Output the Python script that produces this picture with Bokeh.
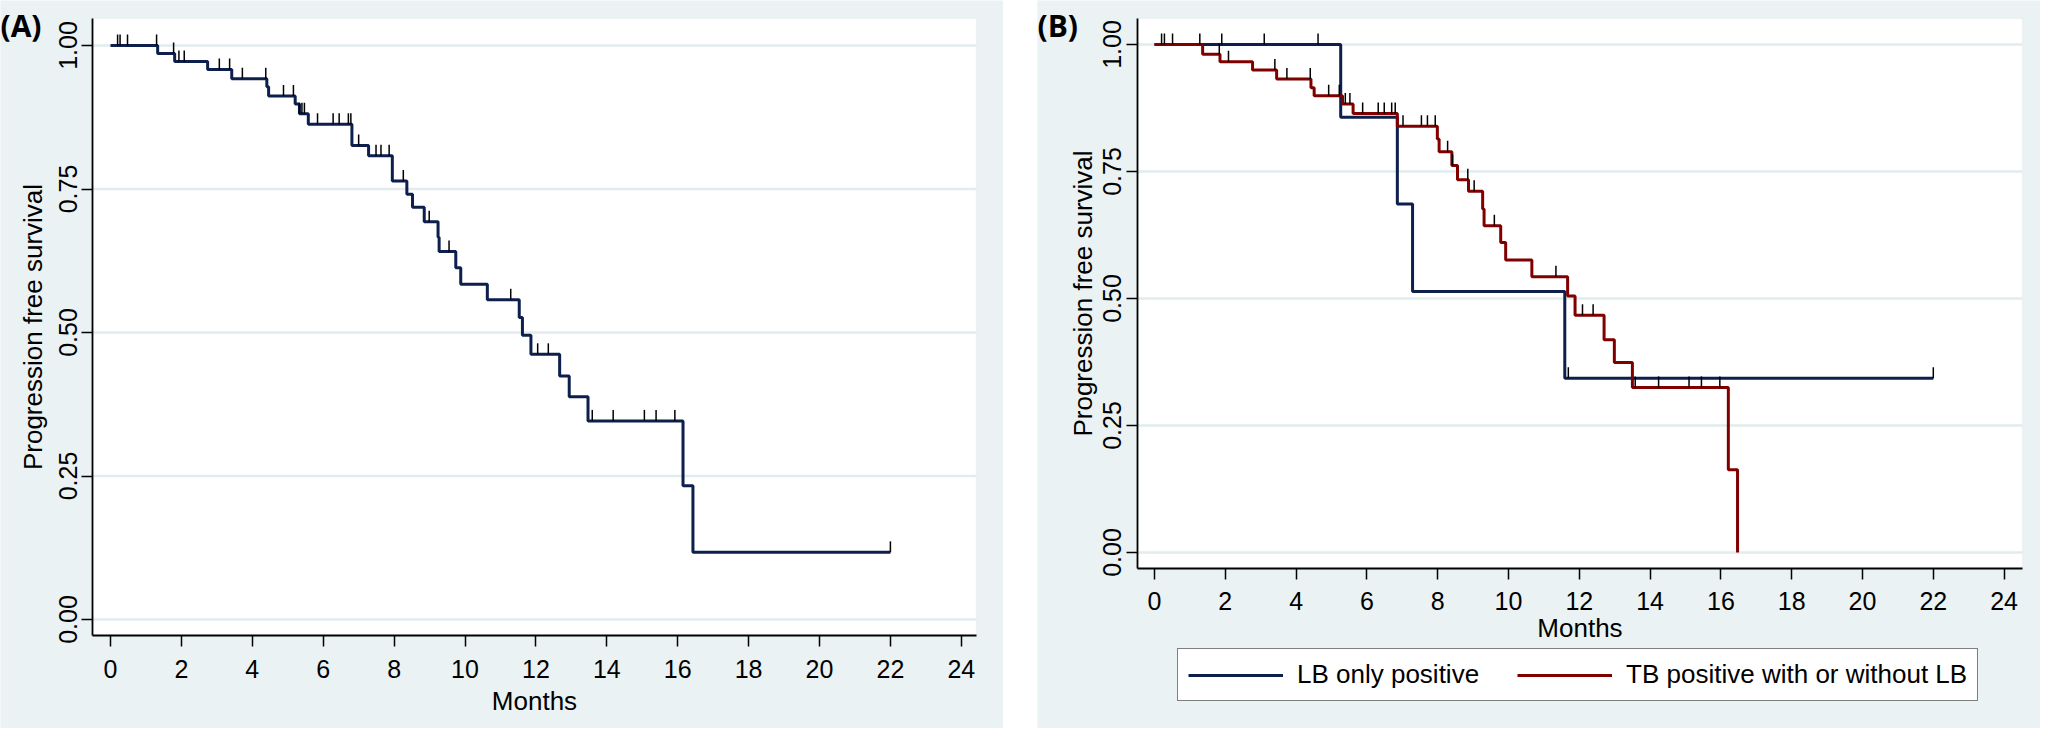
import numpy as np
from bokeh.plotting import figure
from bokeh.models import (Range1d, FixedTicker, Label, Legend, LegendItem, NumeralTickFormatter,
                          LinearAxis, BoxAnnotation)
from bokeh.layouts import row
from bokeh.embed import file_html
from bokeh.resources import INLINE

# ---------------- data ----------------
# Panel A: all patients
a_times = [0, 1.33, 1.81, 2.74, 3.42, 4.41, 4.46, 5.21, 5.33, 5.58, 6.81, 7.28, 7.95, 8.36,
           8.52, 8.85, 9.24, 9.27, 9.74, 9.88, 10.63, 11.53, 11.62, 11.86, 12.67, 12.94,
           13.47, 16.15, 16.43]
a_surv = [1.0, 0.986, 0.972, 0.958, 0.942, 0.928, 0.912, 0.898, 0.881, 0.863, 0.826, 0.808,
          0.764, 0.741, 0.718, 0.693, 0.666, 0.641, 0.613, 0.584, 0.557, 0.526, 0.495, 0.462,
          0.424, 0.388, 0.346, 0.233, 0.117]
a_end = 22.0
a_censor = [0.2, 0.27, 0.48, 1.3, 1.78, 1.93, 2.08, 3.07, 3.36, 3.72, 4.38, 4.88, 5.16, 5.33,
            5.40, 5.47, 5.84, 6.28, 6.45, 6.71, 6.78, 7.0, 7.49, 7.63, 7.86, 8.26, 8.99, 9.55,
            11.29, 12.05, 12.35, 13.59, 14.18, 15.06, 15.39, 15.92, 22.0]

# Panel B: LB only positive
lb_times = [0, 5.26, 6.86, 7.29, 11.59]
lb_surv = [1.0, 0.857, 0.686, 0.514, 0.343]
lb_end = 22.0
lb_censor = [1.90, 3.10, 4.62, 11.69, 22.0]

# Panel B: TB positive with or without LB
tb_times = [0, 1.36, 1.85, 2.77, 3.45, 4.42, 4.51, 5.31, 5.61, 6.86, 7.99, 8.04, 8.40, 8.56,
            8.87, 9.27, 9.31, 9.78, 9.92, 10.66, 11.67, 11.88, 12.70, 12.99, 13.50, 16.21, 16.47]
tb_surv = [1.0, 0.981, 0.966, 0.950, 0.932, 0.915, 0.899, 0.883, 0.864, 0.839, 0.814, 0.789,
           0.762, 0.734, 0.711, 0.676, 0.643, 0.610, 0.576, 0.543, 0.505, 0.467, 0.419, 0.374,
           0.325, 0.163, 0.0]
tb_censor = [0.2, 0.28, 0.51, 1.28, 1.83, 2.09, 3.40, 3.74, 4.40, 4.92, 5.22, 5.39, 5.52, 5.88,
             6.32, 6.49, 6.70, 6.80, 7.02, 7.54, 7.71, 7.93, 8.28, 8.42, 8.85, 9.03, 9.60,
             11.34, 12.09, 12.39, 13.58, 14.24, 15.10, 15.45, 15.97]

x_ticks = list(range(0, 25, 2))
y_ticks = [0, 0.25, 0.5, 0.75, 1.0]
x_label = "Months"
y_label = "Progression free survival"
legend_labels = ["LB only positive", "TB positive with or without LB"]

# ---------------- style ----------------
BG = "#eaf2f3"
GRID = "#e2ebee"
NAVY = "#0c1f4d"
MAROON = "#800000"
FONT = "Liberation Sans"
TICK_FS = "25px"
LAB_FS = "26px"


class Panel:
    """Pixel geometry of one panel: the frame fills the whole figure."""

    def __init__(self, W, H, x0px, ppm, y1px, ppu, box, tick_h):
        self.W, self.H = W, H
        self.x0px, self.ppm, self.y1px, self.ppu = x0px, ppm, y1px, ppu
        L, T, R, B = box
        self.xl, self.xr = self.dx(L), self.dx(R)
        self.yt, self.yb = self.dy(T), self.dy(B)
        self.tick_h = tick_h / ppu

    def dx(self, px):
        return (px - self.x0px) / self.ppm

    def dy(self, py):
        return 1 - (py - self.y1px) / self.ppu


def make_fig(g, y_tick_standoff, y_label_standoff, x_tick_standoff, x_label_standoff):
    p = figure(frame_width=g.W, frame_height=g.H, output_backend="svg", toolbar_location=None,
               x_range=Range1d(g.dx(0), g.dx(g.W)), y_range=Range1d(g.dy(g.H), g.dy(0)),
               x_axis_location=None, y_axis_location=None,
               min_border=0, min_border_left=0, min_border_right=0, min_border_top=0,
               min_border_bottom=0, background_fill_color=BG, border_fill_color=BG,
               outline_line_color=None)
    p.grid.visible = False
    # white plot region
    p.add_layout(BoxAnnotation(left=g.xl, right=g.xr, top=g.yt, bottom=g.yb,
                               fill_color="white", fill_alpha=1.0,
                               line_color="#d9e2e6", line_width=1.5, level="underlay"))
    # horizontal grid lines inside the plot region
    p.segment(x0=[g.xl] * len(y_ticks), y0=y_ticks, x1=[g.xr] * len(y_ticks), y1=y_ticks,
              line_color=GRID, line_width=2.5)

    xa = LinearAxis(fixed_location=g.yb, bounds=(g.xl, g.xr),
                    ticker=FixedTicker(ticks=x_ticks), axis_label=x_label)
    ya = LinearAxis(fixed_location=g.xl, bounds=(g.yb, g.yt),
                    ticker=FixedTicker(ticks=y_ticks), axis_label=y_label,
                    formatter=NumeralTickFormatter(format="0.00"))
    for ax in (xa, ya):
        ax.axis_line_color = "black"
        ax.axis_line_width = 1.8
        ax.major_tick_line_color = "black"
        ax.major_tick_line_width = 1.5
        ax.major_tick_in = 0
        ax.major_tick_out = 11
        ax.minor_tick_in = 0
        ax.minor_tick_out = 0
        ax.major_label_text_font = FONT
        ax.major_label_text_font_size = TICK_FS
        ax.major_label_text_color = "black"
        ax.axis_label_text_font = FONT
        ax.axis_label_text_font_size = LAB_FS
        ax.axis_label_text_font_style = "normal"
        ax.axis_label_text_color = "black"
    ya.major_label_orientation = "vertical"
    ya.major_label_standoff = y_tick_standoff
    ya.axis_label_standoff = y_label_standoff
    xa.major_label_standoff = x_tick_standoff
    xa.axis_label_standoff = x_label_standoff
    p.add_layout(xa, "below")
    p.add_layout(ya, "left")
    return p


def step_xy(times, surv, end=None):
    xs = list(times)
    ys = list(surv)
    if end is not None:
        xs.append(end)
        ys.append(surv[-1])
    return xs, ys


def censor_levels(times, surv, cens):
    t = np.asarray(times)
    s = np.asarray(surv)
    idx = np.searchsorted(t, np.asarray(cens), side="right") - 1
    return s[idx]


def panel_label(p, g, text):
    p.add_layout(Label(x=g.dx(0), y=g.dy(4), text=text, text_font="Open Sans",
                       text_font_style="bold", text_font_size="30px", text_baseline="top",
                       text_align="left", text_color="black"))


# ---------------- panel A ----------------
gA = Panel(1003, 728, x0px=110, ppm=35.45, y1px=45, ppu=574, box=(92, 18, 976, 635), tick_h=11)
pA = make_fig(gA, 5, 8, 13, 5)
xs, ys = step_xy(a_times, a_surv, a_end)
pA.step(xs, ys, mode="after", line_color=NAVY, line_width=3)
lv = censor_levels(a_times, a_surv, a_censor)
pA.segment(x0=a_censor, y0=lv, x1=a_censor, y1=lv + gA.tick_h, line_color="black",
           line_width=1.5)
panel_label(pA, gA, "(A)")

# ---------------- panel B ----------------
gB = Panel(1003, 728, x0px=117, ppm=35.4, y1px=44, ppu=508, box=(100, 18, 985, 568), tick_h=11)
pB = make_fig(gB, 6, 2, 12, 0)
xs, ys = step_xy(lb_times, lb_surv, lb_end)
r_lb = pB.step(xs, ys, mode="after", line_color=NAVY, line_width=3)
xs, ys = step_xy(tb_times, tb_surv)
r_tb = pB.step(xs, ys, mode="after", line_color=MAROON, line_width=3)
lv = censor_levels(lb_times, lb_surv, lb_censor)
pB.segment(x0=lb_censor, y0=lv, x1=lb_censor, y1=lv + gB.tick_h, line_color="black",
           line_width=1.5)
lv = censor_levels(tb_times, tb_surv, tb_censor)
pB.segment(x0=tb_censor, y0=lv, x1=tb_censor, y1=lv + gB.tick_h, line_color="black",
           line_width=1.5)
panel_label(pB, gB, "(B)")

legend = Legend(items=[LegendItem(label=legend_labels[0], renderers=[r_lb]),
                       LegendItem(label=legend_labels[1], renderers=[r_tb])],
                orientation="horizontal", location=(140, 27),
                label_text_font=FONT, label_text_font_size="26px", label_text_color="black",
                glyph_width=95, glyph_height=28, label_standoff=14, spacing=38,
                padding=10, border_line_color="black", border_line_width=1.5,
                background_fill_color="white", background_fill_alpha=1.0)
pB.add_layout(legend)

layout = row(pA, pB, spacing=34)
open("out.html", "w").write(file_html(layout, INLINE))
